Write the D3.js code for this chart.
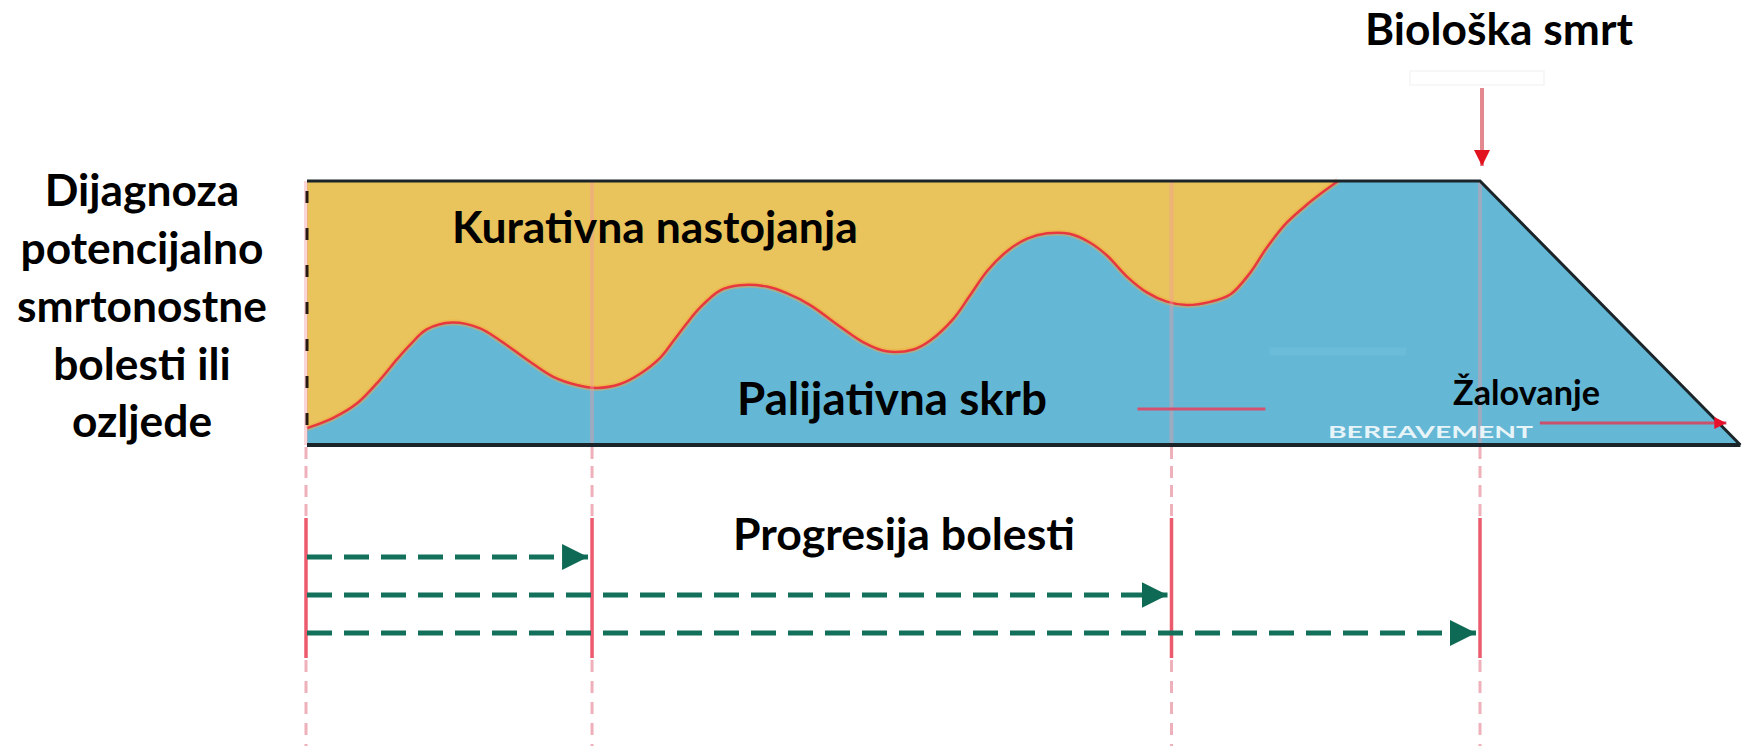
<!DOCTYPE html>
<html><head><meta charset="utf-8">
<script src="https://cdn.jsdelivr.net/npm/d3@7"></script>
<style>
html,body{margin:0;padding:0;background:#fff;}
svg{display:block;}
text{font-family:Lato,"Open Sans","Noto Sans",sans-serif;font-weight:700;}
</style></head><body>
<svg id="chart" width="1742" height="753"></svg>
<script>
// ---------------- data ----------------
// time from diagnosis (0) to biological death (100); bereavement continues after
const curveT = [0, 2.2, 4.3, 6.2, 7.7, 8.8, 10.2, 12.4, 14.7, 16.4, 18.8, 21.0, 23.0, 24.7, 26.7, 28.4, 30.1, 31.2, 32.4, 33.5, 35.2, 36.9, 39.2, 40.9, 42.9, 45.4, 47.4, 49.4, 51.7, 53.1, 55.1, 56.5, 58.0, 59.7, 61.4, 63.1, 65.0, 66.7, 68.2, 69.9, 71.6, 73.3, 75.0, 77.0, 78.7, 80.4, 81.8, 83.5, 85.2, 86.6, 87.9];
// share of care that is palliative (0..1); the rest is curative
const palliativeShare = [0.064, 0.102, 0.159, 0.246, 0.326, 0.38, 0.438, 0.464, 0.443, 0.398, 0.322, 0.258, 0.227, 0.216, 0.231, 0.27, 0.33, 0.392, 0.462, 0.52, 0.585, 0.605, 0.6, 0.575, 0.53, 0.45, 0.39, 0.355, 0.362, 0.395, 0.478, 0.565, 0.66, 0.735, 0.782, 0.802, 0.8, 0.768, 0.718, 0.638, 0.578, 0.543, 0.53, 0.542, 0.57, 0.652, 0.746, 0.841, 0.909, 0.958, 1.0];
const milestoneT = [0, 24.3, 73.7, 100];
const progressionEndT = [24.3, 73.7, 100];
const deathT = 100;
const bereavementEndT = 122.2;
const bereavementArrowT = [105.1, 121.0];
const bereavementArrowShare = 0.083;
const markLineT = [70.8, 81.7];
const markLineShare = 0.136;

const leftLabelLines = ["Dijagnoza", "potencijalno", "smrtonostne", "bolesti ili", "ozljede"];
const curativeLabel = "Kurativna nastojanja";
const palliativeLabel = "Palijativna skrb";
const progressionLabel = "Progresija bolesti";
const deathLabel = "Biološka smrt";
const bereavementLabel = "Žalovanje";
const bereavementEnLabel = "BEREAVEMENT";

// ---------------- layout ----------------
const svg = d3.select("#chart");
const x = d3.scaleLinear().domain([0, 100]).range([307, 1480]);
const y = d3.scaleLinear().domain([0, 1]).range([445, 181]);

const C = {
  yellow: "#E9C35B", blue: "#64B8D6", border: "#1b2529", red: "#E8383F",
  teal: "#13705A", pale: "#eeb0ba", milestone: "#ec5a6e"
};

const defs = svg.append("defs");
defs.append("marker").attr("id", "tealHead").attr("markerUnits", "userSpaceOnUse")
  .attr("markerWidth", 28).attr("markerHeight", 26).attr("refX", 26).attr("refY", 13)
  .attr("orient", "auto")
  .append("path").attr("d", "M0,0 L26,13 L0,26 Z").attr("fill", "#0f6a55");
defs.append("marker").attr("id", "redHead").attr("markerUnits", "userSpaceOnUse")
  .attr("markerWidth", 16).attr("markerHeight", 18).attr("refX", 16).attr("refY", 8)
  .attr("orient", "auto")
  .append("path").attr("d", "M0,0 L16,8 L0,16 Z").attr("fill", "#e3121f");
defs.append("marker").attr("id", "redHeadSmall").attr("markerUnits", "userSpaceOnUse")
  .attr("markerWidth", 14).attr("markerHeight", 14).attr("refX", 12).attr("refY", 6)
  .attr("orient", "auto")
  .append("path").attr("d", "M0,0 L12,6 L0,12 Z").attr("fill", "#e8102a");

const wave = curveT.map((t, i) => [t, palliativeShare[i]]);
const smooth = d3.curveCatmullRom.alpha(0.5);

// curative background
svg.append("rect")
  .attr("x", x(0)).attr("y", y(1))
  .attr("width", x(deathT) - x(0)).attr("height", y(0) - y(1))
  .attr("fill", C.yellow);

// palliative wave area
const area = d3.area().x(d => x(d[0])).y0(y(0)).y1(d => y(d[1])).curve(smooth);
svg.append("path").datum(wave).attr("d", area).attr("fill", C.blue);

// plateau to death and bereavement slope
const tail = [[curveT[curveT.length - 1] - 0.3, 1], [deathT, 1], [bereavementEndT, 0]];
svg.append("path").datum(tail)
  .attr("d", d3.area().x(d => x(d[0])).y0(y(0)).y1(d => y(d[1])))
  .attr("fill", C.blue);

// faint lighter box
svg.append("rect").attr("x", x(82)).attr("y", y(0.37)).attr("width", x(93.7) - x(82)).attr("height", 8)
  .attr("fill", "#7cc6e0").attr("opacity", 0.25);

// boundary line
const line = d3.line().x(d => x(d[0])).y(d => y(d[1])).curve(smooth);
svg.append("path").datum(wave).attr("d", line)
  .attr("fill", "none").attr("stroke", "#f2a93c").attr("stroke-width", 6).attr("opacity", 0.45);
svg.append("path").datum(wave).attr("d", line)
  .attr("fill", "none").attr("stroke", C.red).attr("stroke-width", 2.5);

// milestone vertical lines
const gM = svg.append("g");
milestoneT.forEach(t => {
  const xx = x(t) + (t === 0 ? -1 : 0);
  gM.append("line").attr("x1", xx).attr("x2", xx).attr("y1", y(1)).attr("y2", y(0))
    .attr("stroke", "#f49aa0").attr("stroke-width", 4).attr("opacity", 0.4);
  gM.append("line").attr("x1", xx).attr("x2", xx).attr("y1", y(0) + 2).attr("y2", 518)
    .attr("stroke", C.pale).attr("stroke-width", 3).attr("stroke-dasharray", "12,7");
  gM.append("line").attr("x1", xx).attr("x2", xx).attr("y1", 518).attr("y2", 658)
    .attr("stroke", C.milestone).attr("stroke-width", 3.5);
  gM.append("line").attr("x1", xx).attr("x2", xx).attr("y1", 660).attr("y2", 746)
    .attr("stroke", C.pale).attr("stroke-width", 3).attr("stroke-dasharray", "12,9");
});

// short red mark line
svg.append("line").attr("x1", x(markLineT[0])).attr("x2", x(markLineT[1]))
  .attr("y1", y(markLineShare)).attr("y2", y(markLineShare))
  .attr("stroke", "#d4506e").attr("stroke-width", 3);

// borders
svg.append("path")
  .attr("d", `M${x(0)},${y(1)} L${x(deathT)},${y(1)} L${x(bereavementEndT)},${y(0)}`)
  .attr("fill", "none").attr("stroke", C.border).attr("stroke-width", 3);
svg.append("line").attr("x1", x(0)).attr("x2", x(bereavementEndT)).attr("y1", y(0)).attr("y2", y(0))
  .attr("stroke", C.border).attr("stroke-width", 4);
svg.append("line").attr("x1", x(0)).attr("x2", x(0)).attr("y1", y(1)).attr("y2", y(0))
  .attr("stroke", "#2a1a14").attr("stroke-width", 3).attr("stroke-dasharray", "12,25").attr("stroke-dashoffset", -10);

// BEREAVEMENT faint text
svg.append("text").attr("x", 1328).attr("y", 438)
  .attr("font-family", "'Liberation Sans',sans-serif").attr("font-size", 17)
  .attr("fill", "#ffffff").attr("opacity", 0.85)
  .attr("textLength", 205).attr("lengthAdjust", "spacingAndGlyphs")
  .text(bereavementEnLabel);

// bereavement red arrow
svg.append("line").attr("x1", x(bereavementArrowT[0])).attr("x2", x(bereavementArrowT[1]))
  .attr("y1", y(bereavementArrowShare)).attr("y2", y(bereavementArrowShare))
  .attr("stroke", "#c8526e").attr("stroke-width", 3).attr("marker-end", "url(#redHeadSmall)");

// death arrow
svg.append("line").attr("x1", x(deathT) + 2).attr("x2", x(deathT) + 2).attr("y1", 88).attr("y2", 166)
  .attr("stroke", "#e48890").attr("stroke-width", 4).attr("marker-end", "url(#redHead)");
svg.append("rect").attr("x", 1410).attr("y", 71).attr("width", 134).attr("height", 14)
  .attr("fill", "none").attr("stroke", "#f7f7f7").attr("stroke-width", 2);

// progression arrows
const arrowRowsY = [557, 595, 633];
progressionEndT.forEach((t, i) => {
  svg.append("line").attr("x1", x(0)).attr("x2", x(t) - 4)
    .attr("y1", arrowRowsY[i]).attr("y2", arrowRowsY[i])
    .attr("stroke", C.teal).attr("stroke-width", 5).attr("stroke-dasharray", "25,12")
    .attr("marker-end", "url(#tealHead)");
});

// ---------------- text ----------------
function fit(sel, target) {
  const w = sel.node().getComputedTextLength();
  const fs = parseFloat(sel.attr("font-size"));
  sel.attr("font-size", fs * target / w);
  return fs * target / w;
}

const death = svg.append("text").attr("x", 1365).attr("y", 45).attr("font-size", 40).attr("fill", "#000").text(deathLabel);
fit(death, 268);

const leftG = svg.append("g");
const leftBase = [206, 264, 322, 380, 437];
const leftTexts = leftLabelLines.map((s, i) => leftG.append("text").attr("x", 142).attr("y", leftBase[i])
  .attr("text-anchor", "middle").attr("font-size", 38).attr("fill", "#000").text(s));
const fsLeft = fit(leftTexts[2], 250);
leftTexts.forEach(t => t.attr("font-size", fsLeft));

const cur = svg.append("text").attr("x", 452).attr("y", 243).attr("font-size", 40).attr("fill", "#000").text(curativeLabel);
fit(cur, 406);
const pal = svg.append("text").attr("x", 737).attr("y", 415).attr("font-size", 40).attr("fill", "#000").text(palliativeLabel);
fit(pal, 310);
const prog = svg.append("text").attr("x", 733).attr("y", 550).attr("font-size", 40).attr("fill", "#000").text(progressionLabel);
fit(prog, 342);
const zal = svg.append("text").attr("x", 1453).attr("y", 405).attr("font-size", 30).attr("fill", "#000").text(bereavementLabel);
fit(zal, 147);
</script>
</body></html>
